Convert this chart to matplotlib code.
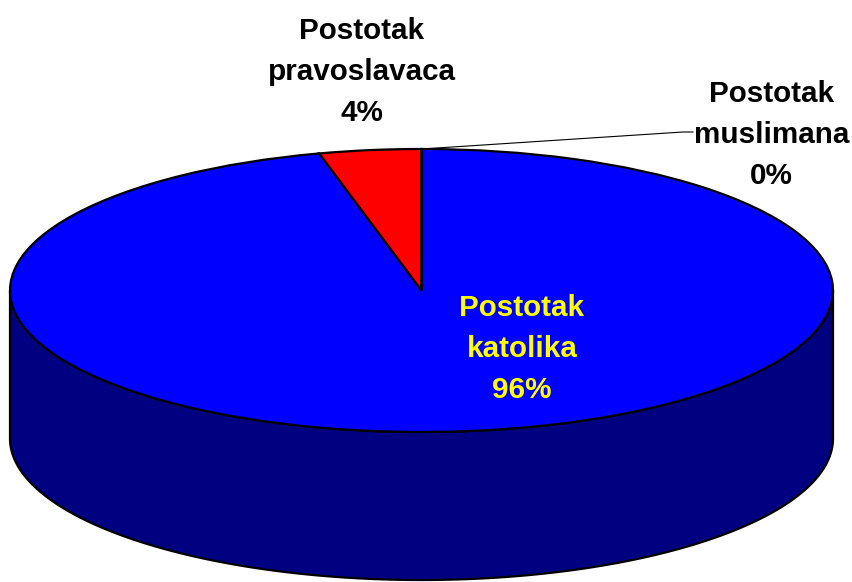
import numpy as np
from matplotlib import pyplot as plt
from matplotlib.patches import Polygon

plt.rcParams['font.family'] = ['Liberation Sans', 'DejaVu Sans']

NAMES = ['katolika', 'pravoslavaca', 'muslimana']
VALUES = [96, 4, 0]
COLORS = ['#0000ff', '#ff0000', '#ffffff']
TEXT_COLORS = ['#ffff00', 'black', 'black']

SIDE_COLOR = '#000080'
DEPTH = 1.046  # height of the cylinder side, in units of the vertical radius
FONTSIZE = 21.3

# pixel geometry of the top ellipse (image 852x582)
CX, CY = 421.5, 290.5
RX, RY = 411.5, 141.5
W, H = 852, 582


def to_data(px, py):
    return (px - CX) / RX, (CY - py) / RY


def draw_side(ax):
    t = np.linspace(np.pi, 2 * np.pi, 200)
    top = np.column_stack([np.cos(t), np.sin(t)])
    bottom = np.column_stack([np.cos(t), np.sin(t) - DEPTH])[::-1]
    side = Polygon(np.vstack([top, bottom]), closed=True,
                   facecolor=SIDE_COLOR, edgecolor='black', lw=1.6, zorder=0.5)
    ax.add_patch(side)


def main():
    fig = plt.figure(figsize=(W / 100, H / 100), dpi=100)
    ax = fig.add_axes([0, 0, 1, 1])

    draw_side(ax)

    ax.pie(
        VALUES,
        colors=COLORS,
        startangle=90,
        counterclock=False,
        wedgeprops=dict(edgecolor='black', linewidth=1.6),
    )

    ax.set_aspect('auto')
    x0, y1 = to_data(0, 0)
    x1, y0 = to_data(W, H)
    ax.set_xlim(x0, x1)
    ax.set_ylim(y0, y1)
    ax.axis('off')

    total = sum(VALUES)
    # label centres in pixels
    label_pos = [(522, 349), (361.5, 72), (771.5, 135)]
    for name, val, tc, (px, py) in zip(NAMES, VALUES, TEXT_COLORS, label_pos):
        lx, ly = to_data(px, py)
        ax.text(lx, ly, 'Postotak\n%s\n%.0f%%' % (name, 100.0 * val / total),
                ha='center', va='center', color=tc, fontsize=FONTSIZE,
                fontweight='bold', linespacing=1.6, zorder=5)

    # leader line for the zero slice
    p0 = (0, 1)
    p1 = to_data(683, 132)
    p2 = to_data(693, 132)
    ax.plot([p0[0], p1[0], p2[0]], [p0[1], p1[1], p2[1]],
            color='black', lw=0.8, zorder=4)

    fig.savefig('out.png', dpi=100)


main()
